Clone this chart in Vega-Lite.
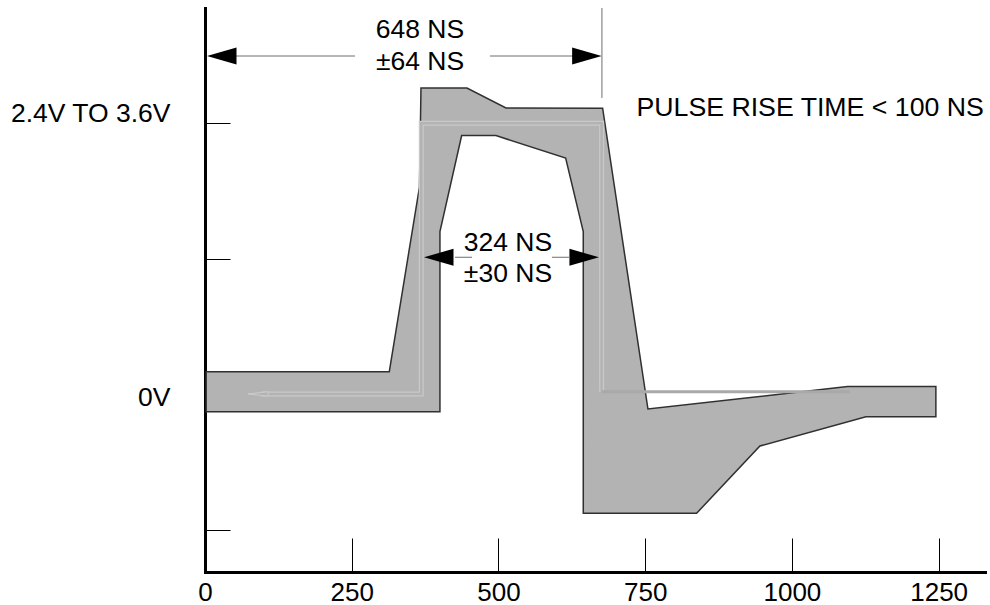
{
  "$schema": "https://vega.github.io/schema/vega-lite/v6.json",
  "width": 780,
  "height": 564,
  "autosize": "none",
  "padding": {"left": 205, "top": 8, "right": 5, "bottom": 33},
  "background": "white",
  "config": {"view": {"stroke": null}, "font": "Liberation Sans"},
  "datasets": {
    "poly": [
      {"o": 1, "x": 2, "y": 0.168},
      {"o": 2, "x": 314.0, "y": 0.168},
      {"o": 3, "x": 365.4, "y": 1.530},
      {"o": 4, "x": 368.0, "y": 2.260},
      {"o": 5, "x": 446.3, "y": 2.260},
      {"o": 6, "x": 512.8, "y": 2.113},
      {"o": 7, "x": 677.5, "y": 2.111},
      {"o": 8, "x": 754.7, "y": -0.107},
      {"o": 9, "x": 1094.9, "y": 0.058},
      {"o": 10, "x": 1245.3, "y": 0.058},
      {"o": 11, "x": 1245.3, "y": -0.164},
      {"o": 12, "x": 1126.1, "y": -0.164},
      {"o": 13, "x": 945.5, "y": -0.380},
      {"o": 14, "x": 837.6, "y": -0.876},
      {"o": 15, "x": 644.5, "y": -0.876},
      {"o": 16, "x": 644.5, "y": 1.201},
      {"o": 17, "x": 614.5, "y": 1.744},
      {"o": 18, "x": 495.7, "y": 1.909},
      {"o": 19, "x": 437.3, "y": 1.909},
      {"o": 20, "x": 400.3, "y": 1.201},
      {"o": 21, "x": 400.3, "y": -0.127},
      {"o": 22, "x": 2, "y": -0.127}
    ],
    "nominal": [
      {"o": 1, "x": 95, "y": 0.004},
      {"o": 2, "x": 368.5, "y": 0.004},
      {"o": 3, "x": 368.5, "y": 2.0},
      {"o": 4, "x": 675.8, "y": 2.0},
      {"o": 5, "x": 675.8, "y": 0.021}
    ],
    "nomRight": [
      {"o": 1, "x": 675.8, "y": 0.021},
      {"o": 2, "x": 1098.8, "y": 0.021}
    ],
    "nomArrow": [
      {"x": 73.3, "y": 0.004}
    ],
    "dims": [
      {"x": 51.1, "x2": 255.5, "y": 2.496, "y2": 2.496},
      {"x": 485.5, "x2": 627.8, "y": 2.496, "y2": 2.496},
      {"x": 676.3, "x2": 676.3, "y": 2.187, "y2": 2.85},
      {"x": 425.9, "x2": 454.9, "y": 1.012, "y2": 1.012},
      {"x": 591.1, "x2": 620.1, "y": 1.012, "y2": 1.012}
    ],
    "arrows": [
      {"x": 3.4, "y": 2.496, "dir": "left"},
      {"x": 675.8, "y": 2.496, "dir": "right"},
      {"x": 373.1, "y": 1.012, "dir": "left"},
      {"x": 671.2, "y": 1.012, "dir": "right"}
    ],
    "notes": [
      {"label": "648 NS", "x": 366.3, "y": 2.688},
      {"label": "±64 NS", "x": 366.3, "y": 2.452},
      {"label": "324 NS", "x": 516.2, "y": 1.117},
      {"label": "±30 NS", "x": 516.2, "y": 0.889}
    ],
    "rightNote": [
      {"label": "PULSE RISE TIME < 100 NS", "x": 1327, "y": 2.113}
    ]
  },
  "encoding": {
    "x": {
      "field": "x",
      "type": "quantitative",
      "scale": {"domain": [0, 1329], "nice": false, "zero": false},
      "axis": {
        "values": [0, 250, 500, 750, 1000, 1250],
        "format": "d",
        "title": null,
        "grid": false,
        "domainColor": "black",
        "domainWidth": 3,
        "domainCap": "square",
        "tickColor": "black",
        "tickWidth": 1,
        "tickSize": -34,
        "labelPadding": 41,
        "labelFontSize": 26,
        "labelFont": "Liberation Sans",
        "labelColor": "black",
        "labelFlush": false,
        "labelOverlap": false
      }
    },
    "y": {
      "field": "y",
      "type": "quantitative",
      "scale": {"domain": [-1.309, 2.85], "nice": false, "zero": false},
      "axis": {
        "values": [-1, 0, 1, 2],
        "title": null,
        "grid": false,
        "domainColor": "black",
        "domainWidth": 3,
        "domainCap": "square",
        "tickColor": "black",
        "tickWidth": 1,
        "tickSize": -25,
        "labelPadding": 60,
        "labelFontSize": 26.5,
        "labelFont": "Liberation Sans",
        "labelColor": "black",
        "labelOverlap": false,
        "labelFlush": false,
        "labelOffset": {"condition": {"test": "datum.value == 2", "value": -10}, "value": 3},
        "labelExpr": "datum.value == 2 ? '2.4V TO 3.6V' : datum.value == 0 ? '0V' : ''"
      }
    }
  },
  "layer": [
    {
      "data": {"name": "poly"},
      "mark": {"type": "line", "interpolate": "linear-closed", "fill": "#b3b3b3", "stroke": "#303030", "strokeWidth": 1.5, "strokeJoin": "miter"},
      "encoding": {"order": {"field": "o", "type": "quantitative"}}
    },
    {
      "data": {"name": "nominal"},
      "mark": {"type": "line", "stroke": "#c9c9c9", "strokeWidth": 5, "strokeJoin": "miter"},
      "encoding": {"order": {"field": "o", "type": "quantitative"}}
    },
    {
      "data": {"name": "nominal"},
      "mark": {"type": "line", "stroke": "#b3b3b3", "strokeWidth": 2.5, "strokeJoin": "miter"},
      "encoding": {"order": {"field": "o", "type": "quantitative"}}
    },
    {
      "data": {"name": "nomRight"},
      "mark": {"type": "line", "stroke": "#a9a9a9", "strokeWidth": 3},
      "encoding": {"order": {"field": "o", "type": "quantitative"}}
    },
    {
      "data": {"name": "nomArrow"},
      "mark": {"type": "point", "shape": "M0,0L2,-0.22L2,0.22Z", "size": 400, "filled": true, "fill": "#b3b3b3", "stroke": "#cccccc", "strokeWidth": 1, "opacity": 1}
    },
    {
      "data": {"name": "dims"},
      "mark": {"type": "rule", "color": "#6e6e6e", "strokeWidth": 1},
      "encoding": {
        "x2": {"field": "x2"},
        "y2": {"field": "y2"}
      }
    },
    {
      "data": {"name": "arrows"},
      "transform": [{"filter": "datum.dir == 'left'"}],
      "mark": {"type": "point", "shape": "M0,0L2,-0.57L2,0.57Z", "size": 870, "filled": true, "color": "black", "opacity": 1, "strokeWidth": 0}
    },
    {
      "data": {"name": "arrows"},
      "transform": [{"filter": "datum.dir == 'right'"}],
      "mark": {"type": "point", "shape": "M0,0L-2,-0.57L-2,0.57Z", "size": 870, "filled": true, "color": "black", "opacity": 1, "strokeWidth": 0}
    },
    {
      "data": {"name": "notes"},
      "mark": {"type": "text", "fontSize": 26.5, "font": "Liberation Sans", "align": "center", "baseline": "middle", "color": "black"},
      "encoding": {"text": {"field": "label"}}
    },
    {
      "data": {"name": "rightNote"},
      "mark": {"type": "text", "fontSize": 26.7, "font": "Liberation Sans", "align": "right", "baseline": "middle", "color": "black"},
      "encoding": {"text": {"field": "label"}}
    }
  ]
}
